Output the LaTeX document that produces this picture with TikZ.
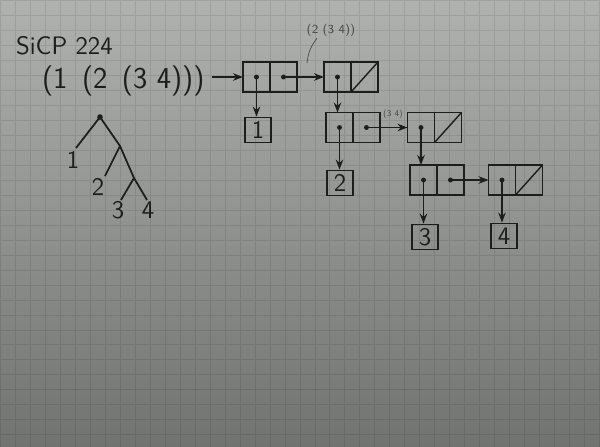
\documentclass[tikz,border=0pt]{standalone}
\usetikzlibrary{arrows.meta, positioning}
\definecolor{paperlight}{RGB}{176,178,175}
\definecolor{paperdark}{RGB}{112,115,112}
\definecolor{pencil}{RGB}{28,30,30}
\tikzset{
    cell/.style={rectangle, draw=pencil, line width=1pt, minimum width=0.54cm, minimum height=0.6cm, inner sep=0pt, outer sep=0pt},
    leafbox/.style={rectangle, draw=pencil, line width=1pt, minimum width=0.52cm, minimum height=0.5cm, inner sep=0pt, font=\sffamily\Large, text=pencil},
    ptr/.style={-{Stealth[length=2mm]}, draw=pencil, line width=1pt},
    nilslash/.style={draw=pencil, line width=0.8pt},
    branch/.style={draw=pencil, line width=1pt},
    handtext/.style={font=\sffamily\Large, text=pencil, inner sep=1pt},
    tinynote/.style={font=\sffamily\scriptsize, text=pencil!80, inner sep=1pt},
    leader/.style={draw=pencil!80, line width=0.4pt},
    gridline/.style={draw=black, opacity=0.09, line width=0.5pt}
}

\begin{document}
\begin{tikzpicture}[x=0.02cm, y=-0.02cm]

% paper
\useasboundingbox (0,0) rectangle (600,447);
\shade[top color=paperlight, bottom color=paperdark] (0,0) rectangle (600,447);
\draw[gridline] (0,0) grid[step=0.3cm] (600,447);

% heading and expression
\node[handtext, anchor=west] (title) at (14,46) {SiCP 224};
\node[handtext, font=\sffamily\LARGE, anchor=west] (expr) at (40,81) {(1\, (2\, (3 4)))};

% tree
\coordinate (root) at (100,117);
\coordinate (n2) at (120,146);
\coordinate (n3) at (134,178);
\coordinate (e1) at (76,148);
\coordinate (e2) at (105,176);
\coordinate (e3) at (121,200);
\coordinate (e4) at (147,200);
\fill[pencil] (root) circle (1.6pt);
\draw[branch] (root) -- (e1);
\draw[branch] (root) -- (n2) -- (n3) -- (e4);
\draw[branch] (n2) -- (e2);
\draw[branch] (n3) -- (e3);
\node[handtext] (t1) at (73,160) {1};
\node[handtext] (t2) at (98,187) {2};
\node[handtext] (t3) at (118,210) {3};
\node[handtext] (t4) at (148,210) {4};

% pairs
\node[cell] (p1a) at (256.5,77) {};
\node[cell, right=0pt of p1a] (p1d) {};
\node[cell] (p2a) at (337.5,77) {};
\node[cell, right=0pt of p2a] (p2d) {};
\node[cell] (p3a) at (339.5,127.5) {};
\node[cell, right=0pt of p3a] (p3d) {};
\node[cell] (p4a) at (421,127.5) {};
\node[cell, right=0pt of p4a] (p4d) {};
\node[cell] (p5a) at (423.5,180) {};
\node[cell, right=0pt of p5a] (p5d) {};
\node[cell] (p6a) at (502,180) {};
\node[cell, right=0pt of p6a] (p6d) {};

% leaves
\node[leafbox] (l1) at (258,130) {1};
\node[leafbox] (l2) at (340,183) {2};
\node[leafbox] (l3) at (425,237) {3};
\node[leafbox] (l4) at (504,236) {4};

% nil slashes
\draw[nilslash] (p2d.south west) -- (p2d.north east);
\draw[nilslash] (p4d.south west) -- (p4d.north east);
\draw[nilslash] (p6d.south west) -- (p6d.north east);

% pointers
\draw[ptr] ([xshift=3pt]expr.east |- p1a.west) -- (p1a.west);
\foreach \c in {p1a,p1d,p2a,p3a,p3d,p4a,p5a,p5d,p6a}
    \fill[pencil] (\c.center) circle (1.4pt);
\draw[ptr] (p1a.center) -- (p1a.center |- l1.north);
\draw[ptr] (p1d.center) -- (p2a.west);
\draw[ptr] (p2a.center) -- (p2a.center |- p3a.north);
\draw[ptr] (p3a.center) -- (p3a.center |- l2.north);
\draw[ptr] (p3d.center) -- (p4a.west);
\draw[ptr] (p4a.center) -- (p4a.center |- p5a.north);
\draw[ptr] (p5a.center) -- (p5a.center |- l3.north);
\draw[ptr] (p5d.center) -- (p6a.west);
\draw[ptr] (p6a.center) -- (p6a.center |- l4.north);

% notes
\node[tinynote] (note1) at (331,30) {(2 (3 4))};
\coordinate (tick1) at (307,63);
\draw[leader] ([xshift=7pt]note1.south west) to[bend right=15] (tick1);
\node[font=\sffamily\tiny, text=pencil!80, inner sep=1pt] (note2) at (393,114) {(3 4)};

\end{tikzpicture}
\end{document}
